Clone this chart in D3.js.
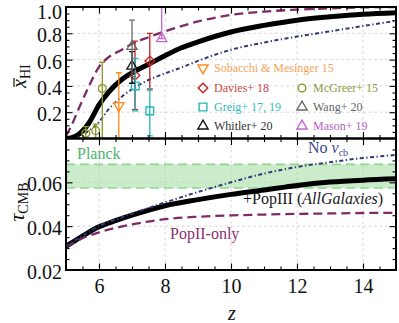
<!DOCTYPE html>
<html>
<head>
<meta charset="utf-8">
<script src="https://cdn.jsdelivr.net/npm/d3@7"></script>
<style>
  body { margin: 0; background: #fff; }
  svg { display: block; }
  svg text { font-family: "Liberation Serif", "Times New Roman", "DejaVu Serif", serif; }
</style>
</head>
<body>
<svg id="chart" width="399" height="323"></svg>
<script>
// ---- model curves, top panel (neutral fraction) ----
const zModel = [5.0, 5.15, 5.4, 5.7, 6.0, 6.3, 6.7, 7.0, 7.5, 8.0, 8.5, 9.0, 10, 11, 12, 13, 14, 15]
const xhiPopIII = [0.0, 0.005, 0.035, 0.12, 0.255, 0.355, 0.45, 0.50, 0.565, 0.63, 0.69, 0.735, 0.81, 0.86, 0.90, 0.925, 0.945, 0.957]
const xhiPopII = [0.02, 0.09, 0.235, 0.40, 0.545, 0.62, 0.675, 0.72, 0.77, 0.815, 0.855, 0.89, 0.94, 0.965, 0.98, 0.99, 0.997, 1.0]
const zNoVcb = [5.3, 5.5, 5.7, 6.0, 6.3, 6.7, 7.0, 7.5, 8.0, 8.5, 9.0, 10, 11, 12, 13, 14, 15]
const xhiNoVcb = [0.0, 0.025, 0.06, 0.125, 0.225, 0.32, 0.375, 0.445, 0.495, 0.54, 0.59, 0.675, 0.73, 0.775, 0.815, 0.855, 0.895]

// ---- model curves, bottom panel (optical depth) ----
const zTau = [5, 5.5, 6, 6.5, 7, 8, 9, 10, 11, 12, 13, 14, 15]
const tauPopIII = [0.0308, 0.0355, 0.0397, 0.0425, 0.0450, 0.0493, 0.0521, 0.0545, 0.0565, 0.0586, 0.0601, 0.0610, 0.0616]
const tauNoVcb = [0.0308, 0.0357, 0.0400, 0.0430, 0.0457, 0.0508, 0.0556, 0.0600, 0.0640, 0.0670, 0.0692, 0.0711, 0.0725]
const tauPopII = [0.0305, 0.0345, 0.0372, 0.0392, 0.0408, 0.0432, 0.0443, 0.0449, 0.0453, 0.0456, 0.0458, 0.0460, 0.0461]
const planckTau = [0.0574, 0.0682]

// ---- observations: [z, x_HI, low, high] ----
const sobacchi = [[6.6, 0.25, 0.0, 0.50]]
const davies = [[7.09, 0.48, 0.22, 0.74], [7.54, 0.59, 0.37, 0.80]]
const greig = [[7.1, 0.40, 0.21, 0.61], [7.54, 0.21, 0.02, 0.38]]
const whitler = [[7.0, 0.55, 0.42, 0.66]]
const mcgreer = [[5.6, 0.04, 0.0, 0.09], [5.9, 0.06, 0.0, 0.11], [6.1, 0.38, 0.0, 0.58]]
const wang = [[7.0, 0.70, 0.47, 0.90]]
const mason = [[7.9, 0.76, 0.76, 1.2]]

const xTicksMajor = [6, 8, 10, 12, 14]
const yTopTicks = [0.2, 0.4, 0.6, 0.8, 1.0]
const yBotTicks = [0.02, 0.04, 0.06]

// styles for the observation sets (legend order)
const obsSets = [
  { name: 'Sobacchi & Mesinger 15', data: sobacchi, sym: 'triDown', color: '#ff8a1c', text: '#f6a35a', col: 0, row: 0 },
  { name: 'Davies+ 18', data: davies, sym: 'diamond', color: '#c41e1e', text: '#c84a4a', col: 0, row: 1 },
  { name: 'Greig+ 17, 19', data: greig, sym: 'square', color: '#22b8b8', text: '#33bcbc', col: 0, row: 2 },
  { name: 'Whitler+ 20', data: whitler, sym: 'tri', color: '#111', text: '#333', col: 0, row: 3 },
  { name: 'McGreer+ 15', data: mcgreer, sym: 'circle', color: '#8a9626', text: '#8f9a45', col: 1, row: 1 },
  { name: 'Wang+ 20', data: wang, sym: 'tri', color: '#6a6a6a', text: '#666', col: 1, row: 2 },
  { name: 'Mason+ 19', data: mason, sym: 'tri', color: '#c466d0', text: '#b55fc2', col: 1, row: 3 }
]

const svg = d3.select('#chart')
const pLeft = 66, pRight = 396, pTop = 7, pMid = 138.5, pBottom = 270

const x = d3.scaleLinear().domain([5, 15]).range([pLeft, pRight])
const yTop = d3.scaleLinear().domain([0, 1]).range([pMid, pTop])
const yBot = d3.scaleLinear().domain([0.02, 0.08]).range([pBottom, pMid])

const defs = svg.append('defs')
defs.append('clipPath').attr('id', 'clipTop').append('rect')
  .attr('x', pLeft).attr('y', pTop).attr('width', pRight - pLeft).attr('height', pMid - pTop)
defs.append('clipPath').attr('id', 'clipBot').append('rect')
  .attr('x', pLeft).attr('y', pMid).attr('width', pRight - pLeft).attr('height', pBottom - pMid)

// grid
function grid(yScale, yVals, y0, y1) {
  const g = svg.append('g').attr('stroke', '#cfcfcf').attr('stroke-width', 0.8).attr('stroke-dasharray', '3,2.5')
  xTicksMajor.forEach(v => g.append('line').attr('x1', x(v)).attr('x2', x(v)).attr('y1', y0).attr('y2', y1))
  yVals.forEach(v => g.append('line').attr('x1', pLeft).attr('x2', pRight).attr('y1', yScale(v)).attr('y2', yScale(v)))
}
grid(yTop, [0.2, 0.4, 0.6, 0.8], pTop, pMid)
grid(yBot, [0.04, 0.06], pMid, pBottom)

// planck band
const band = svg.append('g').attr('clip-path', 'url(#clipBot)')
band.append('rect')
  .attr('x', pLeft).attr('width', pRight - pLeft)
  .attr('y', yBot(planckTau[1])).attr('height', yBot(planckTau[0]) - yBot(planckTau[1]))
  .attr('fill', '#a6e0a6').attr('opacity', 0.6)
planckTau.forEach(v => band.append('line')
  .attr('x1', pLeft).attr('x2', pRight).attr('y1', yBot(v)).attr('y2', yBot(v))
  .attr('stroke', '#8ed68e').attr('stroke-width', 1.6).attr('stroke-dasharray', '9,5'))

// curves
function curve(g, zs, vals, yScale, color, width, dash) {
  const line = d3.line().x((d, i) => x(zs[i])).y(d => yScale(d)).curve(d3.curveMonotoneX)
  g.append('path').datum(vals)
    .attr('d', line)
    .attr('fill', 'none')
    .attr('stroke', color)
    .attr('stroke-width', width)
    .attr('stroke-dasharray', dash)
    .attr('stroke-linecap', 'butt')
}
const gTop = svg.append('g').attr('clip-path', 'url(#clipTop)')
curve(gTop, zModel, xhiPopIII, yTop, '#000', 5, null)
curve(gTop, zModel, xhiPopII, yTop, '#7d2a66', 2.3, '9,5')
curve(gTop, zNoVcb, xhiNoVcb, yTop, '#2e3a78', 2, '4,2.5,1.3,2.5')

const gBot = svg.append('g').attr('clip-path', 'url(#clipBot)')
curve(gBot, zTau, tauPopIII, yBot, '#000', 5, null)
curve(gBot, zTau, tauPopII, yBot, '#7d2a66', 2.3, '9,5')
curve(gBot, zTau, tauNoVcb, yBot, '#2e3a78', 2, '4,2.5,1.3,2.5')

// markers
function symbolPath(sym) {
  if (sym === 'square') return d3.symbol(d3.symbolSquare, 60)()
  if (sym === 'diamond') return d3.symbol(d3.symbolSquare, 46)()
  if (sym === 'circle') return d3.symbol(d3.symbolCircle, 48)()
  return d3.symbol(d3.symbolTriangle, 46)()
}
function symbolRot(sym) {
  if (sym === 'diamond') return 45
  if (sym === 'triDown') return 180
  return 0
}

const gObs = svg.append('g').attr('clip-path', 'url(#clipTop)')
obsSets.forEach(s => {
  s.data.forEach(d => {
    const [z, v, lo, hi] = d
    const g = gObs.append('g').attr('stroke', s.color).attr('stroke-width', 1.3).attr('fill', 'none')
    g.append('line').attr('x1', x(z)).attr('x2', x(z)).attr('y1', yTop(lo)).attr('y2', yTop(hi))
    ;[lo, hi].forEach(c => g.append('line')
      .attr('x1', x(z) - 3).attr('x2', x(z) + 3).attr('y1', yTop(c)).attr('y2', yTop(c)))
    g.append('path').attr('d', symbolPath(s.sym))
      .attr('transform', `translate(${x(z)},${yTop(v)}) rotate(${symbolRot(s.sym)})`)
  })
})

// legend
const legX = [203, 302], legY = [68, 88, 107, 126]
obsSets.forEach(s => {
  const lx = legX[s.col], ly = legY[s.row]
  svg.append('path').attr('d', symbolPath(s.sym))
    .attr('transform', `translate(${lx},${ly}) rotate(${symbolRot(s.sym)})`)
    .attr('fill', 'none').attr('stroke', s.color).attr('stroke-width', 1.4)
  svg.append('text').attr('x', lx + 11).attr('y', ly).attr('dy', '0.35em')
    .attr('font-size', 12).attr('fill', s.text).text(s.name)
})

// frames and ticks
function ticks(axis, transform, values, size) {
  const g = svg.append('g').attr('transform', transform)
    .call(axis.tickValues(values).tickSize(size).tickFormat(''))
  g.select('.domain').remove()
  g.selectAll('.tick line').attr('stroke', '#000').attr('stroke-width', 1.1)
  return g
}
const xMinor = d3.range(5, 15.01, 0.5).filter(v => v % 2 !== 0)
const yTopMinor = d3.range(0, 1.001, 0.05).filter(v => Math.abs(v / 0.2 - Math.round(v / 0.2)) > 0.01)
const yBotMinor = d3.range(0.02, 0.0801, 0.005).filter(v => Math.abs(v / 0.02 - Math.round(v / 0.02)) > 0.01)

;[[pTop, pMid], [pMid, pBottom]].forEach(([y0, y1]) => {
  ticks(d3.axisTop(x), `translate(0,${y0})`, xTicksMajor, -6.5)
  ticks(d3.axisTop(x), `translate(0,${y0})`, xMinor, -3.5)
  ticks(d3.axisBottom(x), `translate(0,${y1})`, xTicksMajor, -6.5)
  ticks(d3.axisBottom(x), `translate(0,${y1})`, xMinor, -3.5)
})
;[[yTop, [0.2, 0.4, 0.6, 0.8], yTopMinor], [yBot, [0.04, 0.06], yBotMinor]].forEach(([ys, maj, mnr]) => {
  ticks(d3.axisLeft(ys), `translate(${pLeft},0)`, maj, -6.5)
  ticks(d3.axisLeft(ys), `translate(${pLeft},0)`, mnr, -3.5)
  ticks(d3.axisRight(ys), `translate(${pRight},0)`, maj, -6.5)
  ticks(d3.axisRight(ys), `translate(${pRight},0)`, mnr, -3.5)
})

svg.append('rect').attr('x', pLeft).attr('y', pTop).attr('width', pRight - pLeft).attr('height', pMid - pTop)
  .attr('fill', 'none').attr('stroke', '#000').attr('stroke-width', 2)
svg.append('rect').attr('x', pLeft).attr('y', pMid).attr('width', pRight - pLeft).attr('height', pBottom - pMid)
  .attr('fill', 'none').attr('stroke', '#000').attr('stroke-width', 2)

// tick labels
function labels(axis, transform, values, fmt, pad, dy) {
  const g = svg.append('g').attr('transform', transform)
    .call(axis.tickValues(values).tickSize(0).tickPadding(pad).tickFormat(fmt))
  g.select('.domain').remove()
  g.attr('font-family', null)
  const t = g.selectAll('text').attr('font-size', 20).attr('fill', '#111')
  if (dy) t.attr('dy', dy)
  return t
}
labels(d3.axisLeft(yTop), `translate(${pLeft},0)`, yTopTicks, d3.format('.1f'), 4, '0.42em')
  .filter(d => d === 1.0).attr('dy', '0.55em')   // keep the top label inside the page
labels(d3.axisLeft(yBot), `translate(${pLeft},0)`, yBotTicks, d3.format('.2f'), 4, '0.42em')
labels(d3.axisBottom(x), `translate(0,${pBottom})`, xTicksMajor, d3.format('d'), 9)

// axis titles
const yl1 = svg.append('g').attr('transform', 'translate(26,75) rotate(-90)')
const t1 = yl1.append('text').attr('x', -13).attr('y', 0).attr('font-size', 20).attr('fill', '#111')
t1.append('tspan').attr('font-style', 'italic').text('x')
t1.append('tspan').attr('font-size', 14).attr('dy', 4).text('HI')
yl1.append('line').attr('x1', -12).attr('x2', -3).attr('y1', -12).attr('y2', -12)
  .attr('stroke', '#111').attr('stroke-width', 1.2)

const t2 = svg.append('g').attr('transform', 'translate(24,202) rotate(-90)')
  .append('text').attr('text-anchor', 'middle').attr('font-size', 22).attr('fill', '#111')
t2.append('tspan').attr('font-style', 'italic').text('τ')
t2.append('tspan').attr('font-size', 14).attr('dy', 4).text('CMB')

svg.append('text').attr('x', 232).attr('y', 320).attr('text-anchor', 'middle')
  .attr('font-size', 20).attr('font-style', 'italic').attr('fill', '#111').text('z')

// curve labels
svg.append('text').attr('x', 77).attr('y', 159).attr('font-size', 16).attr('fill', '#4cb36a').text('Planck')

const nv = svg.append('text').attr('x', 308).attr('y', 153).attr('font-size', 16).attr('fill', '#3b4a8c')
nv.append('tspan').text('No ')
nv.append('tspan').attr('font-style', 'italic').text('v')
nv.append('tspan').attr('font-size', 10).attr('dy', 3).text('cb')

const pl = svg.append('text').attr('x', 243).attr('y', 204).attr('font-size', 16).attr('fill', '#1a1a1a')
pl.append('tspan').text('+PopIII (')
pl.append('tspan').attr('font-style', 'italic').text('AllGalaxies')
pl.append('tspan').text(')')

svg.append('text').attr('x', 170).attr('y', 239).attr('font-size', 16).attr('fill', '#8b2f6e').text('PopII-only')
</script>
</body>
</html>
